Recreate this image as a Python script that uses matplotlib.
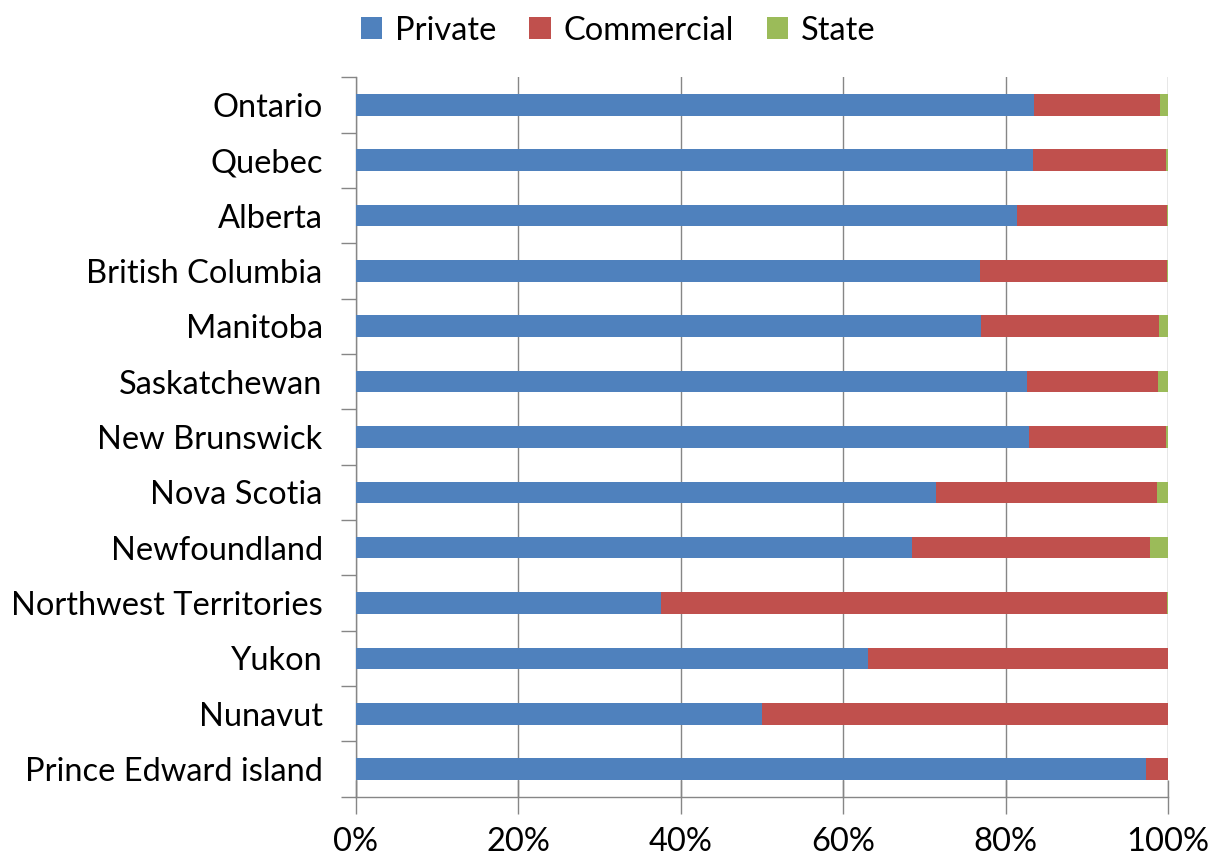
import matplotlib.pyplot as plt
import numpy as np
from matplotlib.ticker import FixedLocator, PercentFormatter

provinces = ['Ontario', 'Quebec', 'Alberta', 'British Columbia', 'Manitoba',
             'Saskatchewan', 'New Brunswick', 'Nova Scotia', 'Newfoundland',
             'Northwest Territories', 'Yukon', 'Nunavut', 'Prince Edward island']

# shares in percent
private = [83.5, 83.4, 81.4, 76.8, 77.0, 82.7, 82.9, 71.4, 68.5, 37.6, 63.1, 50.0, 97.3]
commercial = [15.5, 16.35, 18.5, 23.1, 21.9, 16.1, 16.85, 27.2, 29.3, 62.3, 36.9, 50.0, 2.7]
state = [1.0, 0.25, 0.1, 0.1, 1.1, 1.2, 0.25, 1.4, 2.2, 0.1, 0.0, 0.0, 0.0]

c_blue = '#4F81BD'
c_red = '#C0504D'
c_green = '#9BBB59'
c_axis = '#868686'

plt.rcParams['font.family'] = ['Lato', 'DejaVu Sans']

fig = plt.figure(figsize=(12.17, 8.58), dpi=100)
ax = fig.add_axes([0.2925, 0.0714, 0.6672, 0.8386])

y = np.arange(len(provinces))
private = np.array(private)
commercial = np.array(commercial)
state = np.array(state)

h = 0.39
ax.barh(y, private, height=h, color=c_blue, label='Private', zorder=3)
ax.barh(y, commercial, left=private, height=h, color=c_red, label='Commercial', zorder=3)
ax.barh(y, state, left=private + commercial, height=h, color=c_green, label='State', zorder=3)

ax.set_xlim(0, 100)
ax.set_ylim(len(provinces) - 0.5, -0.5)

ax.set_xticks(np.arange(0, 101, 20))
ax.xaxis.set_major_formatter(PercentFormatter(decimals=0))
ax.set_yticks(y)
ax.set_yticklabels(provinces)
ax.yaxis.set_minor_locator(FixedLocator(np.arange(-0.5, len(provinces), 1)))

ax.tick_params(axis='y', which='major', length=0, pad=24, labelsize=23.5)
ax.tick_params(axis='y', which='minor', length=11, color=c_axis, width=1)
ax.tick_params(axis='x', which='major', direction='inout', length=24, color=c_axis,
               width=1, pad=10, labelsize=23.5)

ax.grid(axis='x', color=c_axis, linewidth=1, zorder=0)
for s in ['top', 'right']:
    ax.spines[s].set_visible(False)
for s in ['left', 'bottom']:
    ax.spines[s].set_color(c_axis)
    ax.spines[s].set_linewidth(1)

fig.legend(loc='upper center', bbox_to_anchor=(0.508, 1.016), ncol=3, frameon=False,
           fontsize=23.5, handlelength=0.65, handleheight=0.65, handletextpad=0.4,
           columnspacing=1.0)

fig.savefig('out.png', dpi=100)
